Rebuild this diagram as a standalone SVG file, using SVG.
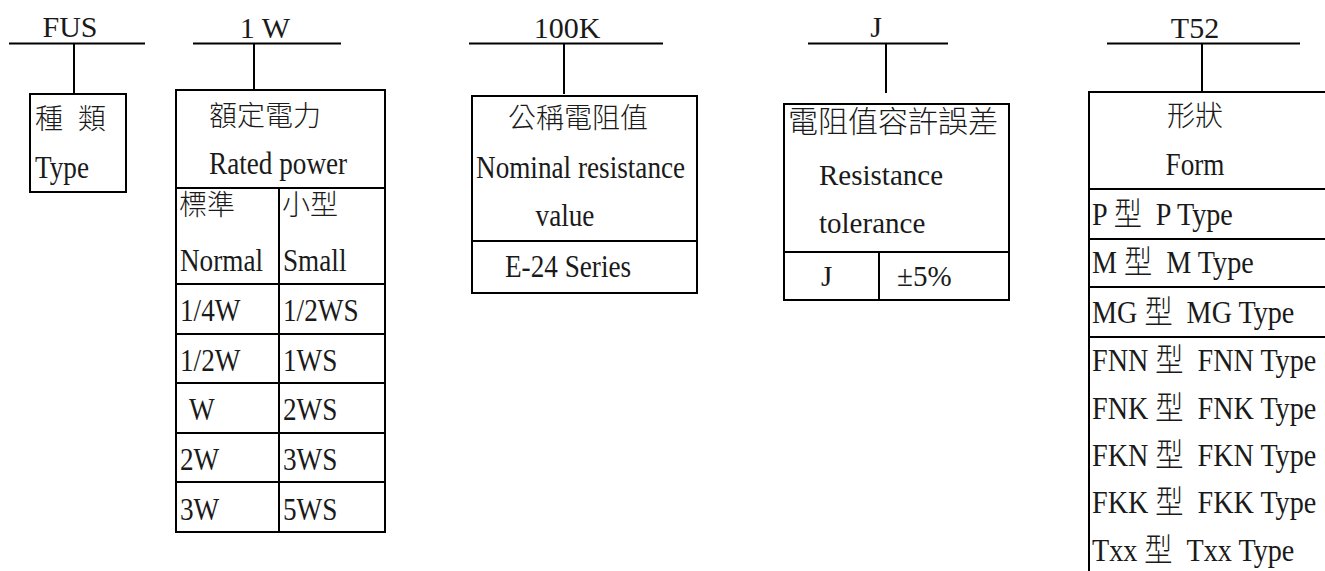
<svg xmlns="http://www.w3.org/2000/svg" width="1325" height="571" viewBox="0 0 1325 571">
<style>
  .bg { fill: #ffffff; }
  .ln { stroke: #000; stroke-width: 2; fill: none; }
  .box { stroke: #000; stroke-width: 2; fill: #fff; }
  text { font-family: "Liberation Serif", "Noto Sans CJK TC", serif; font-size: 28px; fill: #1a1a1a; white-space: pre; }
  .lbl { font-size: 30px; text-anchor: middle; }
  .cjk { font-family: "Noto Sans CJK TC", sans-serif; font-weight: 300; }
  .k { font-family: "Noto Sans CJK TC", sans-serif; font-weight: 300; }
  .mid { text-anchor: middle; }
  .t29 { font-size: 29px; }
  .sx { font-size: 32px; transform-box: fill-box; transform-origin: 0 50%; transform: scaleX(0.85); }
  .sx.mid { transform-origin: 50% 50%; }
  .row { font-size: 32px; transform-box: fill-box; transform-origin: 0 50%; transform: scaleX(0.88); }
</style>
<rect class="bg" x="0" y="0" width="1325" height="571"/>

<g id="connectors">
  <line class="ln" x1="9" y1="43.5" x2="145" y2="43.5"/>
  <line class="ln" x1="74" y1="43.5" x2="74" y2="94"/>
  <line class="ln" x1="193" y1="43.5" x2="341" y2="43.5"/>
  <line class="ln" x1="254" y1="43.5" x2="254" y2="90"/>
  <line class="ln" x1="469" y1="43.5" x2="663" y2="43.5"/>
  <line class="ln" x1="564" y1="43.5" x2="564" y2="94"/>
  <line class="ln" x1="808" y1="43.5" x2="948" y2="43.5"/>
  <line class="ln" x1="886" y1="43.5" x2="886" y2="93"/>
  <line class="ln" x1="1107" y1="43.5" x2="1300" y2="43.5"/>
  <line class="ln" x1="1202" y1="43.5" x2="1202" y2="91"/>
</g>

<g id="labels">
  <text class="lbl" x="70" y="37">FUS</text>
  <text class="lbl" x="265" y="38">1 W</text>
  <text class="lbl" x="567" y="38">100K</text>
  <text class="lbl" x="876" y="37">J</text>
  <text class="lbl" x="1195" y="38">T52</text>
</g>

<g id="node-type">
  <rect class="box" x="30" y="94" width="96" height="98"/>
  <text class="cjk" x="35" y="129">種</text>
  <text class="cjk" x="78" y="129">類</text>
  <text class="sx" x="35" y="178">Type</text>
</g>

<g id="node-power">
  <rect class="box" x="176" y="90" width="209" height="442"/>
  <line class="ln" x1="176" y1="188" x2="385" y2="188"/>
  <line class="ln" x1="176" y1="284" x2="385" y2="284"/>
  <line class="ln" x1="176" y1="334" x2="385" y2="334"/>
  <line class="ln" x1="176" y1="383" x2="385" y2="383"/>
  <line class="ln" x1="176" y1="433" x2="385" y2="433"/>
  <line class="ln" x1="176" y1="482" x2="385" y2="482"/>
  <line class="ln" x1="279" y1="188" x2="279" y2="532"/>
  <text class="cjk" x="209" y="126">額定電力</text>
  <text class="sx" x="209" y="174">Rated power</text>
  <text class="cjk" x="179" y="215">標準</text>
  <text class="cjk" x="282" y="215">小型</text>
  <text class="sx" x="180" y="271">Normal</text>
  <text class="sx" x="283" y="271">Small</text>
  <text class="sx" x="180" y="321">1/4W</text>
  <text class="sx" x="283" y="321">1/2WS</text>
  <text class="sx" x="180" y="371">1/2W</text>
  <text class="sx" x="283" y="371">1WS</text>
  <text class="sx" x="189" y="420">W</text>
  <text class="sx" x="283" y="420">2WS</text>
  <text class="sx" x="180" y="470">2W</text>
  <text class="sx" x="283" y="470">3WS</text>
  <text class="sx" x="180" y="520">3W</text>
  <text class="sx" x="283" y="520">5WS</text>
</g>

<g id="node-resistance">
  <rect class="box" x="472" y="96" width="225" height="197"/>
  <line class="ln" x1="472" y1="241" x2="697" y2="241"/>
  <text class="cjk mid" x="578" y="128">公稱電阻值</text>
  <text class="sx" x="476" y="178">Nominal resistance</text>
  <text class="sx mid" x="565" y="226">value</text>
  <text class="sx" x="505" y="277">E-24 Series</text>
</g>

<g id="node-tolerance">
  <rect class="box" x="784" y="104" width="225" height="196"/>
  <line class="ln" x1="784" y1="252" x2="1009" y2="252"/>
  <line class="ln" x1="879" y1="252" x2="879" y2="300"/>
  <text class="cjk" x="788" y="132" style="font-size:30px">電阻值容許誤差</text>
  <text class="t29" x="819" y="185">Resistance</text>
  <text class="t29" x="819" y="233">tolerance</text>
  <text class="t29" x="821" y="286">J</text>
  <text class="t29" x="897" y="286">±5%</text>
</g>

<g id="node-form">
  <path class="ln" d="M1330 92 H1089 V572"/>
  <line class="ln" x1="1089" y1="189" x2="1330" y2="189"/>
  <line class="ln" x1="1089" y1="239" x2="1330" y2="239"/>
  <line class="ln" x1="1089" y1="287" x2="1330" y2="287"/>
  <line class="ln" x1="1089" y1="337" x2="1330" y2="337"/>
  <text class="cjk mid" x="1195" y="126">形狀</text>
  <text class="sx mid" x="1195" y="175">Form</text>
  <text class="row" x="1092" y="225">P <tspan class="k">型</tspan>  P Type</text>
  <text class="row" x="1092" y="273">M <tspan class="k">型</tspan>  M Type</text>
  <text class="row" x="1092" y="323">MG <tspan class="k">型</tspan>  MG Type</text>
  <text class="row" x="1092" y="371">FNN <tspan class="k">型</tspan>  FNN Type</text>
  <text class="row" x="1092" y="419">FNK <tspan class="k">型</tspan>  FNK Type</text>
  <text class="row" x="1092" y="466">FKN <tspan class="k">型</tspan>  FKN Type</text>
  <text class="row" x="1092" y="513">FKK <tspan class="k">型</tspan>  FKK Type</text>
  <text class="row" x="1092" y="561">Txx <tspan class="k">型</tspan>  Txx Type</text>
</g>
</svg>
